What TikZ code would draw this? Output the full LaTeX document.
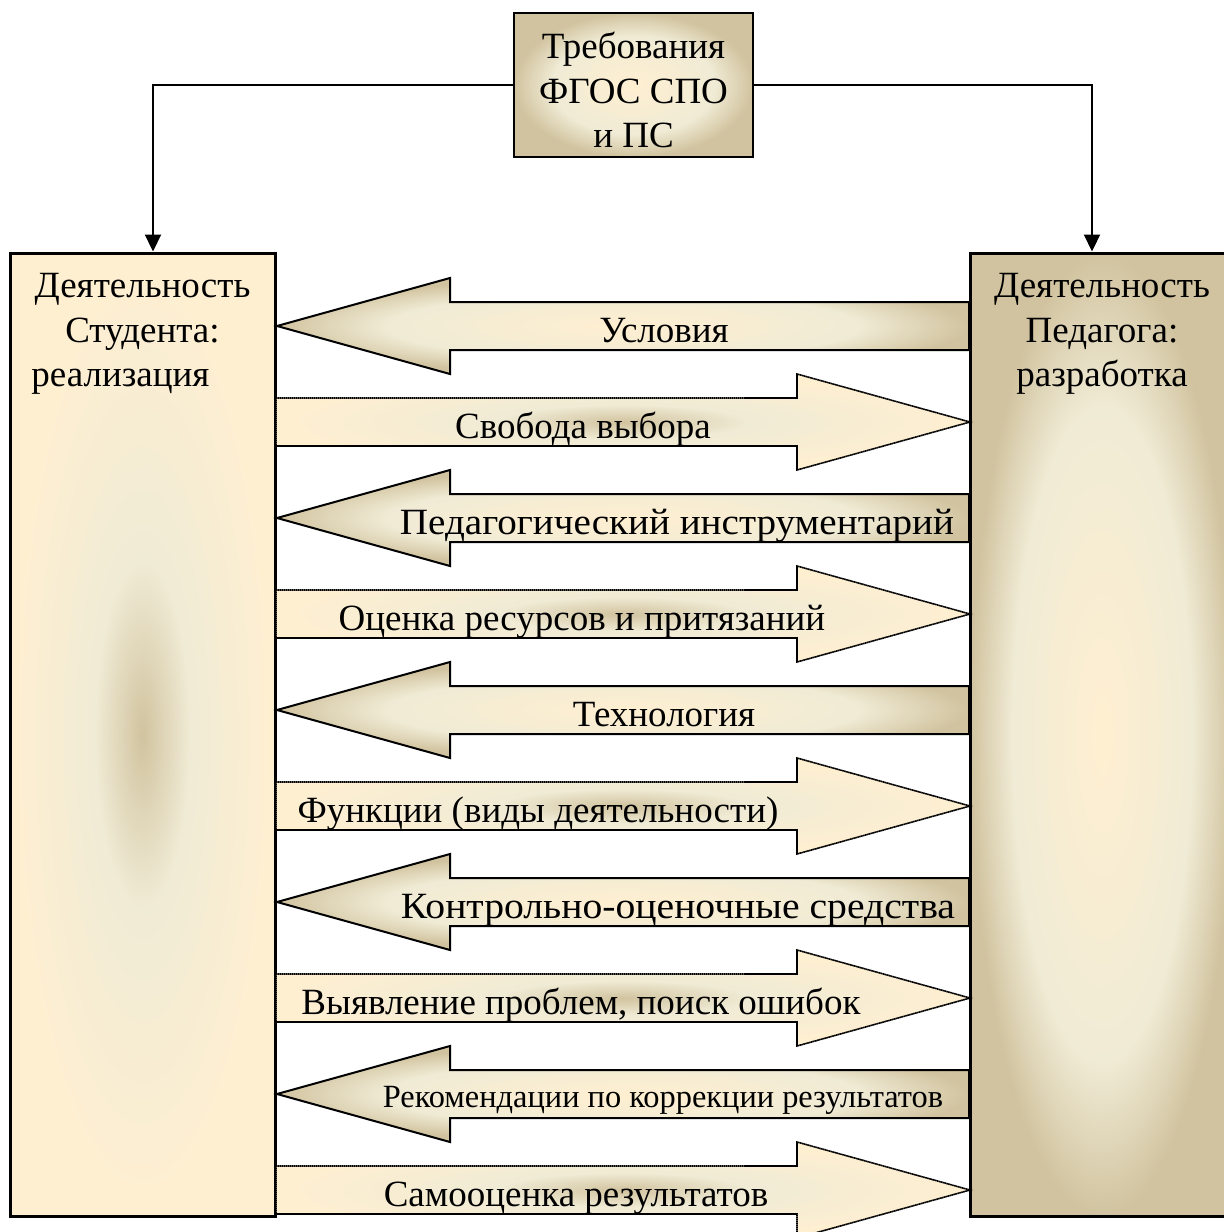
\documentclass[tikz,border=0pt]{standalone}
\usepackage{fontspec}
\setmainfont{Liberation Serif}
\usetikzlibrary{arrows.meta}
\definecolor{parchA}{HTML}{FFEFD1}
\definecolor{parchB}{HTML}{F0EBD5}
\definecolor{parchC}{HTML}{D1C39F}
\pgfdeclareradialshading{darkcenter}{\pgfpoint{0bp}{0bp}}{color(0bp)=(parchC); color(9bp)=(parchB); color(25bp)=(parchA); color(50bp)=(parchA)}
\pgfdeclareradialshading{lightcenter}{\pgfpoint{0bp}{0bp}}{color(0bp)=(parchA); color(17bp)=(parchB); color(25bp)=(parchC); color(50bp)=(parchC)}
\newcommand\lblfont{\fontsize{18.5pt}{22.25pt}\selectfont}
\newcommand\recfont{\fontsize{16.2pt}{19pt}\selectfont}
\newcommand\larr[1]{\draw[leftarr] (277,#1) -- (450,#1-48) -- (450,#1-24) -- (969,#1-24) -- (969,#1+24) -- (450,#1+24) -- (450,#1+48) -- cycle;}
\newcommand\rarr[1]{\draw[rightarr] (276,#1-24) -- (797,#1-24) -- (797,#1-48) -- (970,#1) -- (797,#1+48) -- (797,#1+24) -- (276,#1+24) -- cycle;}
\begin{document}
\begin{tikzpicture}[x=0.5pt,y=-0.5pt,
  studbox/.style={draw=black, line width=1.5pt, inner sep=0pt, shade, shading=darkcenter, minimum width=132.5pt, minimum height=481.5pt},
  pedbox/.style={draw=black, line width=1.5pt, inner sep=0pt, shade, shading=lightcenter, minimum width=132pt, minimum height=481.5pt},
  reqbox/.style={draw=black, line width=1.4pt, inner sep=0pt, shade, shading=lightcenter, minimum width=119.5pt, minimum height=72pt},
  boxtext/.style={inner sep=0pt, align=center, font=\lblfont},
  lab/.style={inner sep=0pt, font=\lblfont, anchor=base},
  smalllab/.style={inner sep=0pt, font=\recfont, anchor=base},
  conn/.style={line width=1.1pt, -{Triangle[length=8.5pt,width=8pt]}},
  leftarr/.style={draw=black, line width=1pt, shade, shading=lightcenter},
  rightarr/.style={draw=black, line width=0.8pt, dash pattern=on 0.8pt off 0.2pt, shade, shading=darkcenter}
]
\useasboundingbox (0,0) rectangle (1224,1232);
\node[studbox] (stud) at (142.5,734.5) {};
\node[pedbox] (ped) at (1102,734.5) {};
\node[reqbox] (req) at (633.5,85) {};
\node[boxtext, anchor=north] (studtxt) at (142.5,273) {Деятельность\\Студента:\\реализация\hspace*{22pt}};
\node[boxtext, anchor=north] (pedtxt) at (1102,273) {Деятельность\\Педагога:\\разработка};
\node[boxtext, anchor=north] (reqtxt) at (633.5,32) {Требования\\ФГОС СПО\\и ПС};
\draw[conn] (req.west) -| ([xshift=5.25pt]stud.north);
\draw[conn] (req.east) -| ([xshift=-5pt]ped.north);
\larr{326}
\rarr{422}
\larr{518}
\rarr{614}
\larr{710}
\rarr{806}
\larr{902}
\rarr{998}
\larr{1094}
\rarr{1190}
\node[lab] (t1) at (664,342) {Условия};
\node[lab] (t2) at (583,438) {Свобода выбора};
\node[lab, xscale=1.057, transform shape] (t3) at (677,534) {Педагогический инструментарий};
\node[lab] (t4) at (582,630) {Оценка ресурсов и притязаний};
\node[lab] (t5) at (664,726) {Технология};
\node[lab] (t6) at (538,822) {Функции (виды деятельности)};
\node[lab, xscale=1.072, transform shape] (t7) at (678,918) {Контрольно-оценочные средства};
\node[lab] (t8) at (581,1014) {Выявление проблем, поиск ошибок};
\node[smalllab] (t9) at (663,1107) {Рекомендации по коррекции результатов};
\node[lab] (t10) at (576,1206) {Самооценка результатов};
\end{tikzpicture}
\end{document}
